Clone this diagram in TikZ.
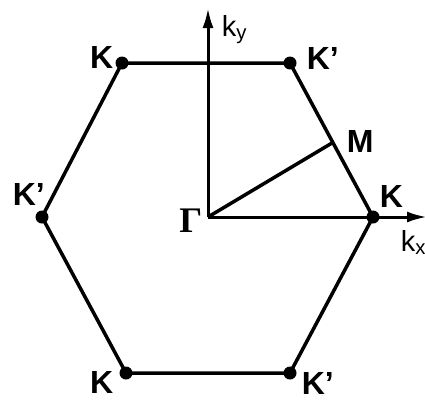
\documentclass[tikz,border=0pt]{standalone}
\usepackage{fontspec}
\setmainfont{Liberation Sans}
\newfontfamily\grkfont{Liberation Serif}
\usetikzlibrary{arrows.meta}
\begin{document}
\begin{tikzpicture}[x=1pt,y=-1pt,line width=3.5pt,
  every node/.style={font=\fontsize{32}{35}\selectfont\bfseries,inner sep=0pt},
  bzdot/.style={circle,fill,inner sep=0pt,minimum size=13pt},
  axlabel/.style={font=\fontsize{29}{32}\selectfont},
  axis/.style={line width=3pt,-{Latex[length=20pt,width=11pt]}}]
\useasboundingbox (0,0) rectangle (425,400);
% Brillouin zone corners
\node[bzdot] (Ktl) at (122,63) {};
\node[bzdot] (Kptr) at (290,63) {};
\node[bzdot] (Kr) at (373,217) {};
\node[bzdot] (Kpbr) at (290,373) {};
\node[bzdot] (Kbl) at (126,373) {};
\node[bzdot] (Kpl) at (42,217) {};
\draw (Ktl.center) -- (Kptr.center) -- (Kr.center) -- (Kpbr.center) -- (Kbl.center) -- (Kpl.center) -- cycle;
% axes
\coordinate (G) at (208,217);
\coordinate (kxend) at (427,217);
\coordinate (kyend) at (208,8);
\draw[axis] (G) -- (kxend);
\draw[axis] (G) -- (kyend);
\node[axlabel,anchor=base west] (ky) at (220,36) {k\textsubscript{y}};
\node[axlabel,anchor=base west] (kx) at (399,251) {k\textsubscript{x}};
% M point
\coordinate (M) at (332,143);
\draw (G) -- (M);
% labels
\node[anchor=east] (lKtl) at (115,57) {K};
\node[anchor=west] (lKptr) at (305,58) {K'};
\node[anchor=west] (lKr) at (378,196) {K};
\node[anchor=west] (lM) at (345,141) {M};
\node[anchor=west] (lKpl) at (11,194) {K'};
\node[anchor=east,font=\fontsize{36}{38}\selectfont\bfseries\grkfont] (lG) at (204,221) {Γ};
\node[anchor=east] (lKbl) at (115,382) {K};
\node[anchor=west] (lKpbr) at (300,383) {K'};
\end{tikzpicture}
\end{document}
